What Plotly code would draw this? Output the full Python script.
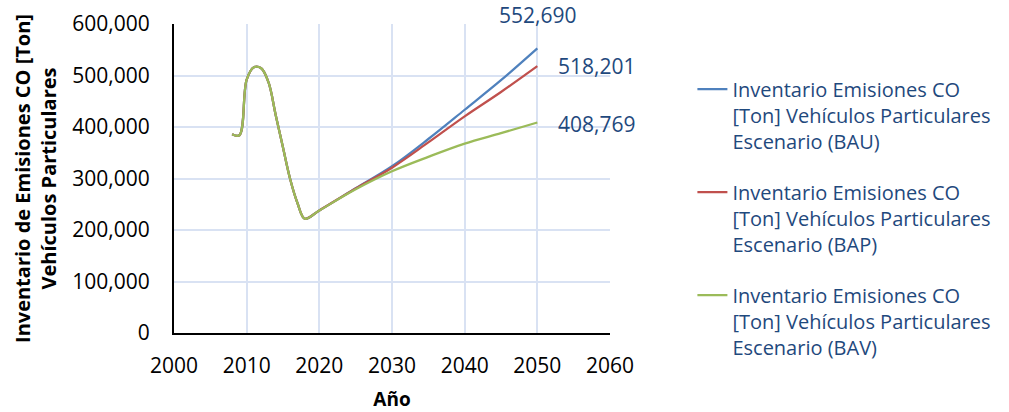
import plotly.graph_objects as go

# Shared historical part (same for all scenarios)
years_hist = [2008, 2009, 2010, 2011, 2012, 2013, 2014, 2015, 2016, 2017, 2018]
values_hist = [386000, 384000, 492000, 516000, 514000, 487000, 423000, 360000, 298000, 252000, 222000]

# Projections
years_proj = [2020, 2025, 2030, 2035, 2040, 2045, 2050]
bau_proj = [238000, 281000, 323800, 376700, 433500, 490900, 552690]
bap_proj = [238000, 280500, 321000, 370000, 420600, 468000, 518201]
bav_proj = [238000, 279000, 314000, 342000, 367700, 388000, 408769]

series_names = [
    "Inventario Emisiones CO<br>[Ton] Vehículos Particulares<br>Escenario (BAU)",
    "Inventario Emisiones CO<br>[Ton] Vehículos Particulares<br>Escenario (BAP)",
    "Inventario Emisiones CO<br>[Ton] Vehículos Particulares<br>Escenario (BAV)",
]
series_proj = [bau_proj, bap_proj, bav_proj]
colors = ["#4F81BD", "#C0504D", "#9BBB59"]
text_color = "#1F497D"
font_family = "Open Sans"

fig = go.Figure()
for i, (name, proj, col) in enumerate(zip(series_names, series_proj, colors)):
    fig.add_trace(go.Scatter(
        x=years_hist + years_proj,
        y=values_hist + proj,
        mode="lines",
        name=name,
        legendgroup=f"g{i}",
        line=dict(color=col, width=2.25, shape="spline", smoothing=1.0),
    ))

# Data labels at the final year
label_cfg = [
    dict(xanchor="center", yanchor="bottom", xshift=0, yshift=17),
    dict(xanchor="left", yanchor="middle", xshift=19, yshift=0),
    dict(xanchor="left", yanchor="middle", xshift=19, yshift=-2),
]
for proj, cfg in zip(series_proj, label_cfg):
    fig.add_annotation(
        x=years_proj[-1], y=proj[-1], text=f"{proj[-1]:,}", showarrow=False,
        font=dict(family=font_family, size=21, color=text_color), **cfg,
    )

fig.update_layout(
    width=1009, height=412,
    margin=dict(l=174, r=399, t=24, b=79, autoexpand=False),
    paper_bgcolor="white", plot_bgcolor="white",
    font=dict(family=font_family, size=21, color="black"),
    showlegend=True,
    legend=dict(
        x=1.189, y=0.852, xanchor="left", yanchor="top",
        font=dict(family=font_family, size=20, color=text_color),
        valign="top", tracegroupgap=22, bgcolor="rgba(0,0,0,0)",
    ),
    xaxis=dict(
        range=[2000, 2060], dtick=10, tick0=2000,
        showgrid=True, gridcolor="#D9E2F3", gridwidth=2,
        showline=True, linecolor="black", linewidth=2,
        zeroline=False, automargin=False,
        ticks="outside", ticklen=13, tickcolor="rgba(0,0,0,0)",
        tickfont=dict(size=21, color="black"),
        title=dict(text="<b>Año</b>", font=dict(size=19, color="black"), standoff=16),
    ),
    yaxis=dict(
        range=[0, 600000], dtick=100000, tickformat=",",
        showgrid=True, gridcolor="#D9E2F3", gridwidth=2,
        showline=True, linecolor="black", linewidth=2,
        zeroline=False, automargin=False,
        ticks="outside", ticklen=18, tickcolor="rgba(0,0,0,0)",
        tickfont=dict(size=21, color="black"),
        title=dict(text="<b>Inventario de Emisiones CO [Ton]<br>Vehículos Particulares</b>",
                   font=dict(size=20, color="black"), standoff=10),
    ),
)

# Remove the default page margin so the figure fills the window exactly.
fig.write_html("out.html", config={"displayModeBar": False},
               post_script="document.body.style.margin='0px';")
